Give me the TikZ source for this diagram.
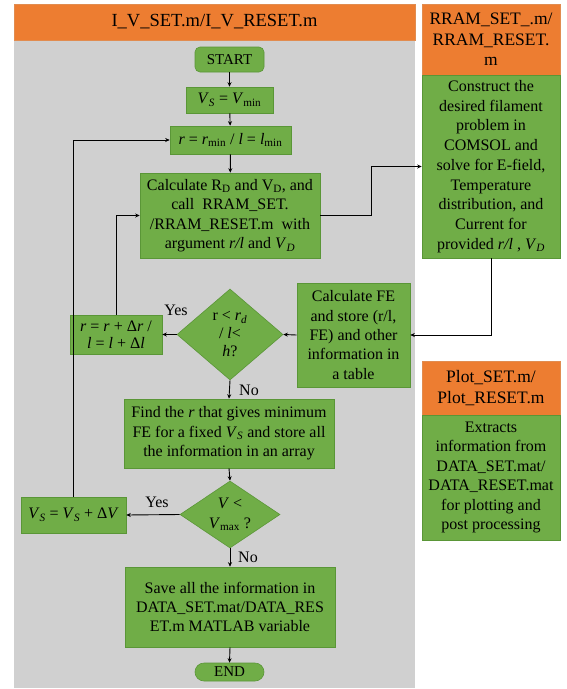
\documentclass[tikz,border=0pt]{standalone}
\usepackage{fontspec}
\setmainfont{Liberation Serif}
\usetikzlibrary{arrows.meta,shapes.geometric}
\definecolor{gfill}{RGB}{112,173,71}
\definecolor{gborder}{RGB}{90,150,55}
\definecolor{ofill}{RGB}{237,125,49}
\definecolor{oborder}{RGB}{225,140,80}
\definecolor{panelgray}{RGB}{208,208,208}
\newcommand\bodyfs{\fontsize{16}{19.4}\selectfont}
\newcommand\hdrfs{\fontsize{17.5}{20.5}\selectfont}
\newcommand\ttlfs{\fontsize{18.5}{21}\selectfont}
\newcommand\isub[2]{\textit{#1}\textsubscript{#2}}
\tikzset{
  box/.style={draw=gborder, fill=gfill, line width=0.6pt, inner sep=0pt, align=center, font=\bodyfs},
  term/.style={box, rounded corners=5pt, font=\fontsize{15}{18}\selectfont},
  hdr/.style={draw=oborder, fill=ofill, line width=0.6pt, inner sep=0pt, align=center, font=\hdrfs},
  dia/.style={diamond, draw=gborder, fill=gfill, line width=0.6pt, inner sep=0pt},
  arr/.style={-{Stealth[length=4.5pt,width=4pt]}, line width=0.9pt},
  lbl/.style={font=\bodyfs, inner sep=1pt}
}
\begin{document}
\begin{tikzpicture}[x=1pt,y=-1pt]
\useasboundingbox (0,0) rectangle (566,689);
% left panel
\fill[panelgray] (14,40) rectangle (415,688);
\node[hdr, minimum width=401pt, minimum height=36pt, font=\ttlfs] (title) at (214.5,22) {I\_V\_SET.m/I\_V\_RESET.m};
% right panels
\node[hdr, minimum width=138pt, minimum height=71pt] (rramhdr) at (491,39.5) {RRAM\_SET\_.m/\\RRAM\_RESET.\\m};
\node[box, minimum width=138pt, minimum height=183pt, font=\fontsize{16}{19.7}\selectfont] (rram) at (491,166.5) {Construct the\\desired filament\\problem in\\COMSOL and\\solve for E-field,\\Temperature\\distribution, and\\Current for\\provided \textit{r/l} , \isub{V}{\textit{D}}};
\node[hdr, minimum width=138pt, minimum height=54pt] (plothdr) at (491,388) {Plot\_SET.m/\\Plot\_RESET.m};
\node[box, minimum width=138pt, minimum height=125pt] (plot) at (491,477.5) {Extracts\\information from\\DATA\_SET.mat/\\DATA\_RESET.mat\\for plotting and\\post processing};
% flow
\node[term, minimum width=69pt, minimum height=25pt] (start) at (229.5,59.5) {START};
\node[box, minimum width=87pt, minimum height=26pt] (vs) at (229.5,100) {\isub{V}{\textit{S}} = \isub{V}{min}};
\node[box, minimum width=121pt, minimum height=28pt] (rmin) at (230.5,140) {\textit{r} = \isub{r}{min} / \textit{l} = \isub{l}{min}};
\node[box, minimum width=180pt, minimum height=85pt] (calc) at (230,215.5) {Calculate R\textsubscript{D} and V\textsubscript{D}, and\\call\ \ RRAM\_SET.\\/RRAM\_RESET.m\ \ with\\argument \textit{r/l} and \isub{V}{\textit{D}}};
\node[dia, minimum width=106pt, minimum height=91pt] (d1) at (230,334.5) {};
\node[align=center, font=\fontsize{16}{18}\selectfont, inner sep=0pt] (d1t) at (d1) {r < \isub{r}{\textit{d}}\\/ \textit{l}<\\\textit{h}?};
\node[box, minimum width=113pt, minimum height=104pt] (fe) at (353.5,335) {Calculate FE\\and store (r/l,\\FE) and other\\information in\\a table};
\node[box, minimum width=92pt, minimum height=39pt, font=\fontsize{16}{17}\selectfont] (rinc) at (116,334.5) {\textit{r} = \textit{r} + Δ\textit{r} /\\\textit{l} = \textit{l} + Δ\textit{l}};
\node[box, minimum width=210pt, minimum height=69pt] (find) at (229,433.5) {Find the \textit{r} that gives minimum\\FE for a fixed \isub{V}{\textit{S}} and store all\\the information in an array};
\node[dia, minimum width=100pt, minimum height=67pt] (d2) at (230,514.5) {};
\node[align=center, font=\bodyfs, inner sep=0pt] (d2t) at (d2) {\textit{V} <\\\isub{V}{max} ?};
\node[box, minimum width=105pt, minimum height=36pt] (vsinc) at (73.5,515) {\isub{V}{\textit{S}} = \isub{V}{\textit{S}} + Δ\textit{V}};
\node[box, minimum width=210pt, minimum height=80pt] (save) at (230,607) {Save all the information in\\DATA\_SET.mat/DATA\_RES\\ET.m MATLAB variable};
\node[term, minimum width=69pt, minimum height=18pt, rounded corners=9pt] (end) at (229.5,672) {END};
% connectors
\draw[arr] (start) -- (vs);
\draw[arr] (vs) -- (rmin);
\draw[arr] (rmin) -- (calc);
\draw[arr] (calc.east) -- ++(51,0) |- (rram.west);
\draw[arr] (rram.south) |- (fe.east);
\draw[arr] (fe.west) -- (d1.east);
\draw[arr] (d1.west) -- (rinc.east);
\draw[arr] (rinc.north) |- (calc.west);
\draw[arr] (d1.south) -- (find.north);
\draw[arr] (find.south) -- (d2.north);
\draw[arr] (d2.west) -- (vsinc.east);
\draw[arr] (vsinc.north) |- (rmin.west);
\draw[arr] (d2.south) -- (save.north);
\draw[arr] (save.south) -- (end.north);
% labels
\node[lbl] (yes1) at (176,310) {Yes};
\node[lbl] (no1) at (249,390) {No};
\node[lbl] (yes2) at (157,502) {Yes};
\node[lbl] (no2) at (248,557) {No};
\end{tikzpicture}
\end{document}
